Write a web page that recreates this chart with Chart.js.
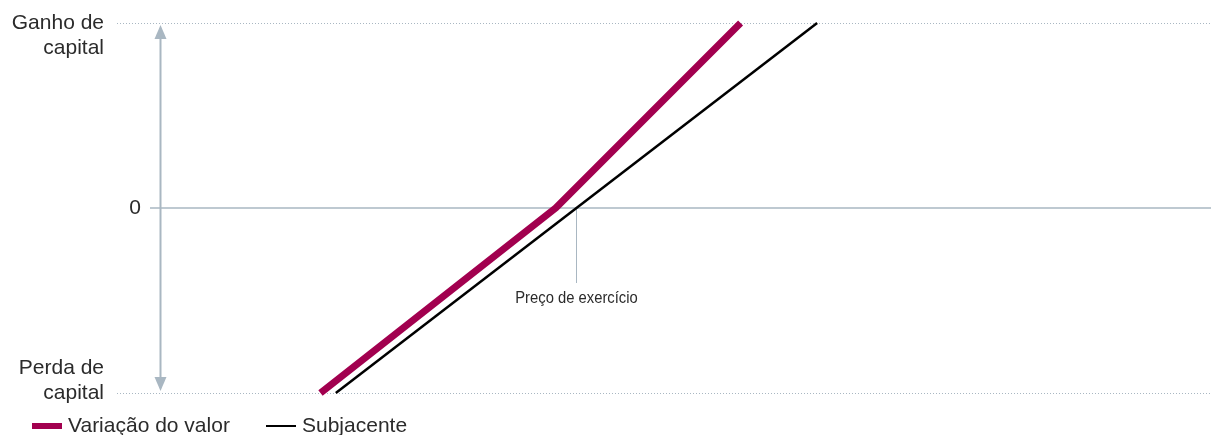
<!DOCTYPE html>
<html>
<head>
<meta charset="utf-8">
<script src="https://cdn.jsdelivr.net/npm/chart.js@4"></script>
<style>
  html, body { margin: 0; padding: 0; background: #fff; }
  #wrap { width: 1211px; height: 435px; position: relative; }
</style>
</head>
<body>
<div id="wrap"><canvas id="payoff"></canvas></div>
<script>
// payoff profile: value change vs underlying, strike where the underlying crosses zero
var seriesNames = ['Variação do valor', 'Subjacente'];
var valorX = [18.6, 40.1, 57.0];
var valorY = [-1, 0, 1];
var subjX = [20.0, 64.0];
var subjY = [-1, 1];
var strikeX = 42.0;
var arrowX = 3.9;
var yTickValues = [1, 0, -1];
var yTickLabels = [['Ganho de', 'capital'], ['0'], ['Perda de', 'capital']];
var strikeLabel = 'Preço de exercício';

const MAGENTA = '#a2004f';
const AXIS_GREY = '#a9b7c2';
const TEXT = '#2b2b2b';
const FONT = '"Liberation Sans", Arial, sans-serif';

function toPoints(xs, ys) {
    return xs.map((x, i) => ({ x: x, y: ys[i] }));
}

const decorPlugin = {
    id: 'decor',
    beforeDatasetsDraw: (chart) => {
        const ctx = chart.ctx;
        const xs = chart.scales.x;
        const ys = chart.scales.y;
        const area = chart.chartArea;
        ctx.save();

        // dotted gain / loss guide lines
        ctx.strokeStyle = AXIS_GREY;
        ctx.lineWidth = 1;
        ctx.setLineDash([1, 2]);
        [1, -1].forEach(v => {
            const py = Math.round(ys.getPixelForValue(v)) + 0.5;
            ctx.beginPath();
            ctx.moveTo(area.left, py);
            ctx.lineTo(area.right, py);
            ctx.stroke();
        });
        ctx.setLineDash([]);

        // zero line
        const y0 = ys.getPixelForValue(0);
        ctx.lineWidth = 1.5;
        ctx.beginPath();
        ctx.moveTo(area.left + 33, y0);
        ctx.lineTo(area.right, y0);
        ctx.stroke();

        // strike marker
        const sx = Math.round(xs.getPixelForValue(strikeX)) + 0.5;
        ctx.lineWidth = 1;
        ctx.beginPath();
        ctx.moveTo(sx, y0);
        ctx.lineTo(sx, y0 + 75);
        ctx.stroke();

        ctx.fillStyle = TEXT;
        ctx.textAlign = 'center';
        ctx.textBaseline = 'middle';
        ctx.font = '17px ' + FONT;
        ctx.save();
        ctx.translate(sx, y0 + 90);
        ctx.scale(0.87, 1);
        ctx.fillText(strikeLabel, 0, 0);
        ctx.restore();

        // double-headed arrow between gain and loss
        const ax = Math.round(xs.getPixelForValue(arrowX)) + 0.5;
        const top = ys.getPixelForValue(1) + 2;
        const bot = ys.getPixelForValue(-1) - 2;
        const head = 14, half = 6;
        ctx.strokeStyle = AXIS_GREY;
        ctx.fillStyle = AXIS_GREY;
        ctx.lineWidth = 2;
        ctx.beginPath();
        ctx.moveTo(ax, top + head);
        ctx.lineTo(ax, bot - head);
        ctx.stroke();
        ctx.beginPath();
        ctx.moveTo(ax, top);
        ctx.lineTo(ax - half, top + head);
        ctx.lineTo(ax + half, top + head);
        ctx.closePath();
        ctx.fill();
        ctx.beginPath();
        ctx.moveTo(ax, bot);
        ctx.lineTo(ax - half, bot - head);
        ctx.lineTo(ax + half, bot - head);
        ctx.closePath();
        ctx.fill();
        ctx.restore();
    },
    afterDraw: (chart) => {
        const ctx = chart.ctx;
        const ys = chart.scales.y;
        ctx.save();
        ctx.fillStyle = TEXT;
        ctx.font = '21px ' + FONT;
        ctx.textBaseline = 'middle';
        ctx.textAlign = 'right';

        // y labels: two-line ones hang from / sit on their guide line
        yTickValues.forEach((v, i) => {
            const lines = yTickLabels[i];
            const py = ys.getPixelForValue(v);
            if (lines.length === 1) {
                ctx.fillText(lines[0], 141, py);
            } else if (v > 0) {
                ctx.fillText(lines[0], 104, py);
                ctx.fillText(lines[1], 104, py + 25);
            } else {
                ctx.fillText(lines[0], 104, py - 25);
                ctx.fillText(lines[1], 104, py);
            }
        });

        // legend along the bottom
        const ly = 426;
        ctx.textAlign = 'left';
        ctx.fillStyle = MAGENTA;
        ctx.fillRect(32, ly - 3, 30, 6);
        ctx.fillStyle = TEXT;
        ctx.fillText(seriesNames[0], 68, ly);
        ctx.fillStyle = '#000';
        ctx.fillRect(266, ly - 1, 30, 2);
        ctx.fillStyle = TEXT;
        ctx.fillText(seriesNames[1], 302, ly);
        ctx.restore();
    }
};

const config = {
    type: 'scatter',
    data: {
        datasets: [{
            label: seriesNames[1],
            data: toPoints(subjX, subjY),
            showLine: true,
            borderColor: '#000',
            borderWidth: 2.5,
            pointRadius: 0,
            clip: false,
            order: 2
        }, {
            label: seriesNames[0],
            data: toPoints(valorX, valorY),
            showLine: true,
            borderColor: MAGENTA,
            borderWidth: 7,
            borderCapStyle: 'butt',
            borderJoinStyle: 'round',
            pointRadius: 0,
            clip: false,
            order: 1
        }]
    },
    options: {
        responsive: false,
        animation: false,
        layout: { padding: { left: 117, right: 0, top: 23, bottom: 42 } },
        scales: {
            x: { type: 'linear', min: 0, max: 100, display: false },
            y: { type: 'linear', min: -1, max: 1, display: false }
        },
        plugins: {
            legend: { display: false },
            tooltip: { enabled: false }
        }
    },
    plugins: [decorPlugin]
};

const canvas = document.getElementById('payoff');
canvas.width = 1211;
canvas.height = 435;
new Chart(canvas, config);
</script>
</body>
</html>
